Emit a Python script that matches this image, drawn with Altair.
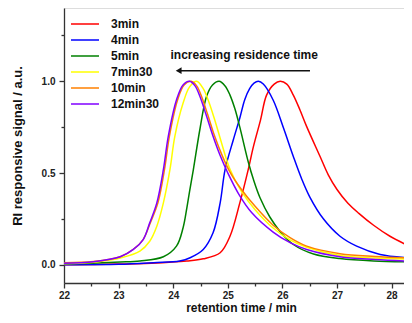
import altair as alt
import pandas as pd

series_names = ["3min", "4min", "5min", "7min30", "10min", "12min30"]
series_colors = ["#FF0000", "#0000FF", "#008000", "#FFFF00", "#FF8000", "#8000FF"]

t_3min = [22.0, 23.0, 23.6, 24.25, 24.55, 24.86, 25.04, 25.22, 25.375, 25.47, 25.6, 25.71, 25.85, 25.96,
          26.08, 26.2, 26.32, 26.445, 26.69, 26.84, 27.0, 27.2, 27.4, 27.67, 27.97, 28.4]
v_3min = [0.0, 0.003, 0.008, 0.02, 0.032, 0.065, 0.155, 0.337, 0.52, 0.645, 0.79, 0.925, 0.985, 1.0,
          0.985, 0.925, 0.845, 0.753, 0.59, 0.49, 0.41, 0.335, 0.28, 0.215, 0.155, 0.09]

t_4min = [22.0, 23.0, 23.64, 24.12, 24.31, 24.55, 24.73, 24.86, 24.95, 25.1, 25.22, 25.31, 25.4, 25.48,
          25.56, 25.65, 25.83, 26.02, 26.2, 26.35, 26.5, 26.75, 27.055, 27.36, 27.79, 28.4]
v_4min = [0.0, 0.002, 0.011, 0.02, 0.038, 0.083, 0.174, 0.337, 0.518, 0.68, 0.8, 0.9, 0.96, 0.99,
          1.0, 0.985, 0.898, 0.745, 0.59, 0.47, 0.37, 0.25, 0.155, 0.101, 0.056, 0.036]

t_5min = [22.0, 22.5, 23.03, 23.39, 23.82, 24.06, 24.18, 24.25, 24.3, 24.37, 24.49, 24.61, 24.72, 24.84,
          24.95, 25.04, 25.13, 25.22, 25.375, 25.47, 25.59, 25.77, 25.96, 26.2, 26.57, 27.055, 27.67, 28.4]
v_5min = [0.005, 0.008, 0.014, 0.02, 0.043, 0.101, 0.2, 0.31, 0.4, 0.52, 0.74, 0.917, 0.98, 1.0,
          0.975, 0.925, 0.85, 0.75, 0.56, 0.464, 0.365, 0.26, 0.18, 0.11, 0.058, 0.033, 0.02, 0.015]

t_7min30 = [22.0, 22.5, 22.84, 23.03, 23.39, 23.57, 23.7, 23.82, 23.94, 24.03, 24.18, 24.3, 24.43, 24.55,
            24.64, 24.75, 24.86, 25.04, 25.25, 25.5, 25.83, 26.14, 26.445, 27.055, 27.7, 28.4]
v_7min30 = [0.005, 0.012, 0.025, 0.036, 0.074, 0.128, 0.21, 0.337, 0.518, 0.7, 0.88, 0.97, 1.0, 0.96,
            0.898, 0.8, 0.69, 0.52, 0.4, 0.3, 0.2, 0.135, 0.095, 0.05, 0.036, 0.03]

t_10min = [22.0, 22.54, 23.03, 23.27, 23.45, 23.58, 23.72, 23.84, 23.93, 24.08, 24.2, 24.33, 24.43, 24.52,
           24.63, 24.76, 24.89, 25.04, 25.25, 25.5, 25.83, 26.14, 26.445, 27.055, 27.7, 28.4]
v_10min = [0.01, 0.017, 0.043, 0.083, 0.137, 0.228, 0.337, 0.518, 0.7, 0.898, 0.98, 1.0, 0.975, 0.917,
           0.82, 0.7, 0.6, 0.505, 0.41, 0.318, 0.215, 0.147, 0.101, 0.06, 0.045, 0.036]

t_12min30 = [22.0, 22.54, 23.03, 23.27, 23.45, 23.57, 23.7, 23.82, 23.91, 24.06, 24.18, 24.3, 24.4, 24.49,
             24.6, 24.73, 24.86, 25.0, 25.2, 25.44, 25.83, 26.14, 26.445, 27.055, 27.7, 28.4]
v_12min30 = [0.008, 0.016, 0.043, 0.083, 0.137, 0.228, 0.337, 0.518, 0.7, 0.898, 0.98, 1.0, 0.975, 0.917,
             0.82, 0.7, 0.595, 0.5, 0.385, 0.283, 0.178, 0.12, 0.083, 0.043, 0.028, 0.018]

x_ticks = [22, 22.5, 23, 23.5, 24, 24.5, 25, 25.5, 26, 26.5, 27, 27.5, 28]
y_ticks = [0, 0.25, 0.5, 0.75, 1.0, 1.25]

annot_text = ["increasing residence time"]
annot_x = [25.3]
annot_y = [1.143]
arrow_x = [24.1]
arrow_x2 = [26.505]
arrow_y = [1.058]

FONT = "Liberation Sans"

all_t = [t_3min, t_4min, t_5min, t_7min30, t_10min, t_12min30]
all_v = [v_3min, v_4min, v_5min, v_7min30, v_10min, v_12min30]
rows = []
for name, ts, vs in zip(series_names, all_t, all_v):
    for t, v in zip(ts, vs):
        rows.append({"series": name, "t": t, "v": v})
df = pd.DataFrame(rows)

xscale = alt.Scale(domain=[22, 28.227], nice=False, zero=False)
yscale = alt.Scale(domain=[-0.1, 1.4], nice=False, zero=False)

x_axis = alt.Axis(
    values=x_ticks,
    labelExpr="datum.value % 1 == 0 ? format(datum.value, 'd') : ''",
    tickSize={"condition": {"test": "datum.value % 1 != 0", "value": 3}, "value": 5},
    labelFont=FONT, labelFontSize=10, labelFontWeight="bold", labelColor="#222",
    labelPadding=2, labelOverlap=False, labelFlush=False,
    domainColor="#333", domainWidth=1.3, tickColor="#333", tickWidth=1.3,
    grid=False,
    title="retention time / min", titleFont=FONT, titleFontSize=12, titleFontWeight="bold",
    titleColor="#111", titleX=177, titleY=31.5, titleBaseline="bottom",
)
y_axis = alt.Axis(
    values=y_ticks,
    labelExpr="(datum.value == 0 || datum.value == 0.5 || datum.value == 1) ? format(datum.value, '.1f') : ''",
    tickSize={"condition": {"test": "datum.value == 0.25 || datum.value == 0.75 || datum.value == 1.25",
                            "value": 3}, "value": 5},
    labelFont=FONT, labelFontSize=10, labelFontWeight="bold", labelColor="#222",
    labelPadding=4, labelOverlap=False, labelFlush=False,
    domainColor="#333", domainWidth=1.3, tickColor="#333", tickWidth=1.3,
    grid=False,
    title="RI responsive signal / a.u.", titleFont=FONT, titleFontSize=13, titleFontWeight="bold",
    titleColor="#111", titleX=-47, titleY=137.5, titleBaseline="middle", titleAngle=270,
)

X = alt.X("t:Q", scale=xscale, axis=x_axis)
Y = alt.Y("v:Q", scale=yscale, axis=y_axis)

color = alt.Color(
    "series:N",
    scale=alt.Scale(domain=series_names, range=series_colors),
    legend=alt.Legend(
        title=None, orient="none", legendX=6, legendY=8, padding=0,
        symbolType="M-2,0H2", symbolSize=196, symbolStrokeWidth=1.5, symbolOffset=7,
        labelFont=FONT, labelFontSize=12, labelFontWeight="bold", labelColor="#111",
        labelOffset=18, rowPadding=0, clipHeight=16, gridAlign="none",
    ),
)

layers = []
for name in series_names:
    layers.append(
        alt.Chart(df).transform_filter(alt.datum.series == name)
        .mark_line(strokeWidth=1.5, clip=True, interpolate="catmull-rom")
        .encode(x=X, y=Y, color=color)
    )

ann_df = pd.DataFrame({"t": annot_x, "v": annot_y, "label": annot_text})
arr_df = pd.DataFrame({"t": arrow_x, "t2": arrow_x2, "v": arrow_y})

text = alt.Chart(ann_df).mark_text(font=FONT, fontSize=12, fontWeight="bold", color="#111").encode(
    x=X, y=Y, text="label:N"
)
rule = alt.Chart(arr_df).mark_rule(color="#111", strokeWidth=1.5).encode(
    x=X, x2="t2:Q", y=Y
)
head = alt.Chart(arr_df).mark_point(shape="triangle-left", filled=True, color="#111", size=45, opacity=1).encode(
    x=X, y=Y
)

chart = alt.layer(*layers, text, rule, head).properties(
    width=340, height=275,
    autosize=alt.AutoSizeParams(type="none"),
    padding={"left": 56, "top": 0, "right": 0, "bottom": 32},
).configure_view(stroke=None).configure(background="white")

chart.save("out.html", embed_options={"renderer": "svg", "actions": False})
